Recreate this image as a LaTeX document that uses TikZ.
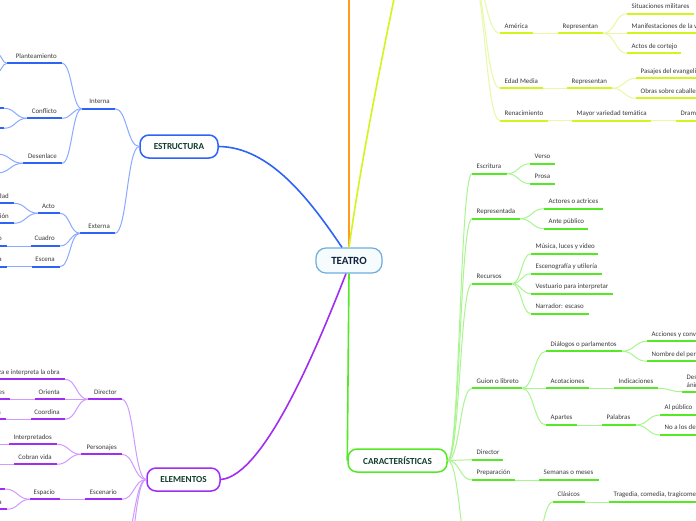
\documentclass[tikz,border=0pt]{standalone}
\usepackage{fontspec}
\setmainfont{Carlito}
\usetikzlibrary{calc}
\definecolor{txt}{HTML}{3A3A3A}
\definecolor{bluM}{HTML}{2E64F6}
\definecolor{bluL}{HTML}{8AA9FF}
\definecolor{purM}{HTML}{A02EF2}
\definecolor{purL}{HTML}{CF9BFF}
\definecolor{grnM}{HTML}{55E824}
\definecolor{grnL}{HTML}{A9F590}
\definecolor{yelM}{HTML}{D2F51E}
\definecolor{yelL}{HTML}{E7F9A5}
\definecolor{orng}{HTML}{FF9B21}
\definecolor{tBord}{HTML}{6FAEDC}
\definecolor{tFill}{HTML}{F6FBFE}
\definecolor{tText}{HTML}{15223F}
\definecolor{mText}{HTML}{123D30}
\tikzset{
  lbl/.style={font=\fontsize{6.9}{8.2}\selectfont, text=txt, inner ysep=3.3pt, text height=4.8pt, text depth=1.6pt},
  lblR/.style={lbl, anchor=south west, inner xsep=4.5pt},
  lblL/.style={lbl, anchor=south east, inner xsep=5pt},
  lbltwo/.style={font=\fontsize{6.9}{8}\selectfont, text=txt, anchor=south west, inner xsep=4.5pt, inner ysep=4.3pt, align=left},
  ul/.style={draw=#1, line width=1.8pt},
  cn/.style={draw=#1, line width=1pt},
  br/.style={draw=#1, line width=1.6pt},
  mm/.style={to path={let \p1=(\tikztostart), \p2=(\tikztotarget) in .. controls ({(\x1+\x2)/2},\y1) and ({(\x1+\x2)/2},\y2) .. (\tikztotarget)}},
  topic/.style={draw=#1, line width=1.5pt, rounded corners=9pt, fill=white, text=mText, font=\bfseries\fontsize{9.2}{11}\selectfont, minimum height=23pt, inner sep=0pt},
}
\newcommand\labR[6]{%
  \coordinate (#1a) at (#2,#4);
  \coordinate (#1b) at (#3,#4);
  \node[lblR] (#1) at (#1a) {#6};
  \draw[ul=#5] (#1a) -- (#1b);
}
\newcommand\labL[6]{%
  \coordinate (#1a) at (#2,#4);
  \coordinate (#1b) at (#3,#4);
  \node[lblL] (#1) at (#1b) {#6};
  \draw[ul=#5] (#1a) -- (#1b);
}
\begin{document}
\begin{tikzpicture}[x=1pt,y=-1pt]
\useasboundingbox (0,0) rectangle (696,520);
\fill[white] (0,0) rectangle (696,520);
\clip (0,0) rectangle (696,520);

% ---------- main nodes ----------
\node[draw=tBord, fill=tFill, line width=1.2pt, rounded corners=10pt, minimum width=66pt, minimum height=25pt, inner sep=0pt, text=tText, font=\bfseries\fontsize{11}{13}\selectfont] (teatro) at (349,260.5) {TEATRO};
\node[topic=bluM, minimum width=78pt] (estr) at (179,146.5) {ESTRUCTURA};
\node[topic=purM, minimum width=73pt] (elem) at (183.5,479.5) {ELEMENTOS};
\node[topic=grnM, minimum width=99pt] (cara) at (397.5,460.5) {CARACTERÍSTICAS};

\coordinate (offO) at (349,-10);
\coordinate (offY) at (400,-30);
\draw[br=orng] (teatro.north) -- (offO);
\draw[br=yelM] (teatro.north) .. controls (360,170) and (375,90) .. (offY);
\draw[br=bluM] (estr.east) .. controls (270,147) and (310,200) .. ([xshift=-7pt]teatro.north);
\draw[br=purM] (elem.east) .. controls (265,476) and (320,340) .. ([xshift=-3pt]teatro.south);
\draw[br=grnM] (teatro.south) -- (cara.west);

% ---------- ESTRUCTURA ----------
\labL{intr}{82}{115}{108.7}{bluM}{Interna}
\labL{ext}{80}{115}{233.3}{bluM}{Externa}
\draw[cn=bluL] (estr.west) to[mm] (intrb);
\draw[cn=bluL] (estr.west) to[mm] (extb);

\labL{plan}{7}{62}{63.3}{bluM}{Planteamiento}
\labL{conf}{27}{62}{118.3}{bluM}{Conflicto}
\labL{desn}{23}{62}{163.3}{bluM}{Desenlace}
\draw[cn=bluL] (intra) to[mm] (planb);
\draw[cn=bluL] (intra) to[mm] (confb);
\draw[cn=bluL] (intra) to[mm] (desnb);

\coordinate (pc1) at (-3,54);
\coordinate (pc2) at (-3,72);
\draw[cn=bluL] (plana) to[mm] (pc1);
\draw[cn=bluL] (plana) to[mm] (pc2);
\coordinate (cc1) at (4,108.3);
\coordinate (cc2) at (4,128.3);
\draw[ul=bluM] (cc1) -- ++(-15,0);
\draw[ul=bluM] (cc2) -- ++(-15,0);
\draw[cn=bluL] (confa) to[mm] (cc1);
\draw[cn=bluL] (confa) to[mm] (cc2);
\coordinate (dc1) at (-3,154);
\coordinate (dc2) at (-3,173);
\draw[cn=bluL] (desna) to[mm] (dc1);
\draw[cn=bluL] (desna) to[mm] (dc2);

\labL{acto}{38}{60}{213.3}{bluM}{Acto}
\labL{cuad}{31}{60}{246}{bluM}{Cuadro}
\labL{escn}{32}{60}{266.7}{bluM}{Escena}
\draw[cn=bluL] (exta) to[mm] (actob);
\draw[cn=bluL] (exta) to[mm] (cuadb);
\draw[cn=bluL] (exta) to[mm] (escnb);

\labL{ac1}{-30}{14}{203.3}{bluM}{Unidad}
\labL{ac2}{-30}{14}{223.3}{bluM}{División}
\draw[cn=bluL] (actoa) to[mm] (ac1b);
\draw[cn=bluL] (actoa) to[mm] (ac2b);
\labL{cu1}{-30}{7}{246}{bluM}{Cambio de decorado}
\labL{es1}{-30}{7}{266.7}{bluM}{Entrada o salida}
\draw[cn=bluL] (cuada) to[mm] (cu1b);
\draw[cn=bluL] (escna) to[mm] (es1b);

% ---------- ELEMENTOS ----------
\labL{dire}{88}{122}{399.3}{purM}{Director}
\labL{pers}{81}{122}{454.3}{purM}{Personajes}
\labL{esce}{85}{122}{499.3}{purM}{Escenario}
\coordinate (offE1) at (122,545);
\coordinate (offE2) at (122,575);
\draw[cn=purL] (elem.west) to[mm] (direb);
\draw[cn=purL] (elem.west) to[mm] (persb);
\draw[cn=purL] (elem.west) to[mm] (esceb);
\draw[cn=purL] (elem.west) to[mm] (offE1);
\draw[cn=purL] (elem.west) to[mm] (offE2);

\labL{di1}{-40}{65}{379.3}{purM}{Analiza e interpreta la obra}
\labL{ori}{35}{65}{399.3}{purM}{Orienta}
\labL{coo}{31}{65}{419.3}{purM}{Coordina}
\draw[cn=purL] (direa) to[mm] (di1b);
\draw[cn=purL] (direa) to[mm] (orib);
\draw[cn=purL] (direa) to[mm] (coob);
\labL{or1}{-40}{10}{399.3}{purM}{A los actores}
\labL{co1}{-40}{6}{419.3}{purM}{Los ensayos}
\draw[cn=purL] (oria) to[mm] (or1b);
\draw[cn=purL] (cooa) to[mm] (co1b);

\labL{int}{9}{57}{444.3}{purM}{Interpretados}
\labL{cob}{14}{57}{464.3}{purM}{Cobran vida}
\draw[cn=purL] (persa) to[mm] (intb);
\draw[cn=purL] (persa) to[mm] (cobb);
\coordinate (offI) at (-10,444.3);
\coordinate (offC) at (-10,464.3);
\draw[cn=purL] (inta) to[mm] (offI);
\draw[cn=purL] (coba) to[mm] (offC);

\labL{esp}{30}{60}{499.3}{purM}{Espacio}
\draw[cn=purL] (escea) to[mm] (espb);
\coordinate (ep1) at (5,489);
\draw[ul=purM] (ep1) -- ++(-15,0);
\labL{ep2}{-40}{7}{509.3}{purM}{Zona}
\draw[cn=purL] (espa) to[mm] (ep1);
\draw[cn=purL] (espa) to[mm] (ep2b);

% ---------- CARACTERISTICAS ----------
\labR{escr}{472}{507}{173.7}{grnM}{Escritura}
\labR{repr}{472}{520}{218.7}{grnM}{Representada}
\labR{recu}{472}{512}{283.7}{grnM}{Recursos}
\labR{guio}{472}{522}{388.3}{grnM}{Guion o libreto}
\labR{cdir}{472}{503}{459.7}{grnM}{Director}
\labR{prep}{472}{515}{480}{grnM}{Preparación}
\coordinate (offG) at (472,560);
\draw[cn=grnL] (cara.east) to[mm] (escra);
\draw[cn=grnL] (cara.east) to[mm] (repra);
\draw[cn=grnL] (cara.east) to[mm] (recua);
\draw[cn=grnL] (cara.east) to[mm] (guioa);
\draw[cn=grnL] (cara.east) to[mm] (cdira);
\draw[cn=grnL] (cara.east) to[mm] (prepa);
\draw[cn=grnL] (cara.east) to[mm] (offG);

\labR{vers}{530}{555}{163.7}{grnM}{Verso}
\labR{pros}{530}{555}{183.7}{grnM}{Prosa}
\draw[cn=grnL] (escrb) to[mm] (versa);
\draw[cn=grnL] (escrb) to[mm] (prosa);

\labR{actr}{544}{603}{208.7}{grnM}{Actores o actrices}
\labR{ante}{544}{588}{228.7}{grnM}{Ante público}
\draw[cn=grnL] (reprb) to[mm] (actra);
\draw[cn=grnL] (reprb) to[mm] (antea);

\labR{musi}{531}{598}{253.7}{grnM}{Música, luces y video}
\labR{esco}{531}{602}{273.7}{grnM}{Escenografía y utilería}
\labR{vest}{531}{613}{293.7}{grnM}{Vestuario para interpretar}
\labR{narr}{531}{589}{313.7}{grnM}{Narrador: escaso}
\draw[cn=grnL] (recub) to[mm] (musia);
\draw[cn=grnL] (recub) to[mm] (escoa);
\draw[cn=grnL] (recub) to[mm] (vesta);
\draw[cn=grnL] (recub) to[mm] (narra);

\labR{dial}{546}{622}{351.3}{grnM}{Diálogos o parlamentos}
\labR{acot}{546}{589}{388.3}{grnM}{Acotaciones}
\labR{apar}{546}{577}{425}{grnM}{Apartes}
\draw[cn=grnL] (guiob) to[mm] (diala);
\draw[cn=grnL] (guiob) to[mm] (acota);
\draw[cn=grnL] (guiob) to[mm] (apara);

\labR{acci}{647}{740}{341.3}{grnM}{Acciones y conversaciones}
\labR{nomb}{647}{740}{361.3}{grnM}{Nombre del personaje}
\draw[cn=grnL] (dialb) to[mm] (accia);
\draw[cn=grnL] (dialb) to[mm] (nomba);

\labR{indi}{614}{658}{388.3}{grnM}{Indicaciones}
\draw[cn=grnL] (acotb) to[mm] (india);
\coordinate (desca) at (682,391.7);
\coordinate (descb) at (760,391.7);
\node[lbltwo] (desc) at (desca) {Describen gestos y estados de\\ánimo};
\draw[ul=grnM] (desca) -- (descb);
\draw[cn=grnL] (indib) to[mm] (desca);

\labR{pala}{602}{636}{425}{grnM}{Palabras}
\draw[cn=grnL] (aparb) to[mm] (palaa);
\labR{alpu}{660}{740}{415}{grnM}{Al público}
\labR{noal}{660}{740}{435}{grnM}{No a los demás personajes}
\draw[cn=grnL] (palab) to[mm] (alpua);
\draw[cn=grnL] (palab) to[mm] (noala);

\labR{sema}{539}{599}{480}{grnM}{Semanas o meses}
\draw[cn=grnL] (prepb) to[mm] (semaa);

\labR{clas}{553}{585}{502}{grnM}{Clásicos}
\labR{trag}{609}{740}{502}{grnM}{Tragedia, comedia, tragicomedia}
\coordinate (offK) at (530,560);
\draw[cn=grnL] (offK) to[mm] (clasa);
\draw[cn=grnL] (clasb) to[mm] (traga);

% ---------- upper yellow branch ----------
\coordinate (offH) at (470,-30);
\labR{amer}{500}{533}{33.3}{yelM}{América}
\labR{edad}{500}{543}{88.3}{yelM}{Edad Media}
\labR{rena}{500}{548}{120.7}{yelM}{Renacimiento}
\draw[cn=yelL] (offH) to[mm] (amera);
\draw[cn=yelL] (offH) to[mm] (edada);
\draw[cn=yelL] (offH) to[mm] (renaa);

\labR{rep1}{558}{603}{33.3}{yelM}{Representan}
\draw[cn=yelL] (amerb) to[mm] (rep1a);
\labR{sitm}{627}{694}{13.7}{yelM}{Situaciones militares}
\labR{mani}{627}{740}{33.3}{yelM}{Manifestaciones de la vida cotidiana}
\labR{acco}{627}{681}{53.3}{yelM}{Actos de cortejo}
\draw[cn=yelL] (rep1b) to[mm] (sitma);
\draw[cn=yelL] (rep1b) to[mm] (mania);
\draw[cn=yelL] (rep1b) to[mm] (accoa);

\labR{rep2}{567}{612}{88.3}{yelM}{Representan}
\draw[cn=yelL] (edadb) to[mm] (rep2a);
\labR{pasa}{636}{740}{78.3}{yelM}{Pasajes del evangelio}
\labR{obra}{636}{740}{98.3}{yelM}{Obras sobre caballería}
\draw[cn=yelL] (rep2b) to[mm] (pasaa);
\draw[cn=yelL] (rep2b) to[mm] (obraa);

\labR{mayo}{572}{651}{120.7}{yelM}{Mayor variedad temática}
\labR{dram}{676}{740}{120.7}{yelM}{Dramas históricos}
\draw[cn=yelL] (renab) to[mm] (mayoa);
\draw[cn=yelL] (mayob) to[mm] (drama);
\end{tikzpicture}
\end{document}
